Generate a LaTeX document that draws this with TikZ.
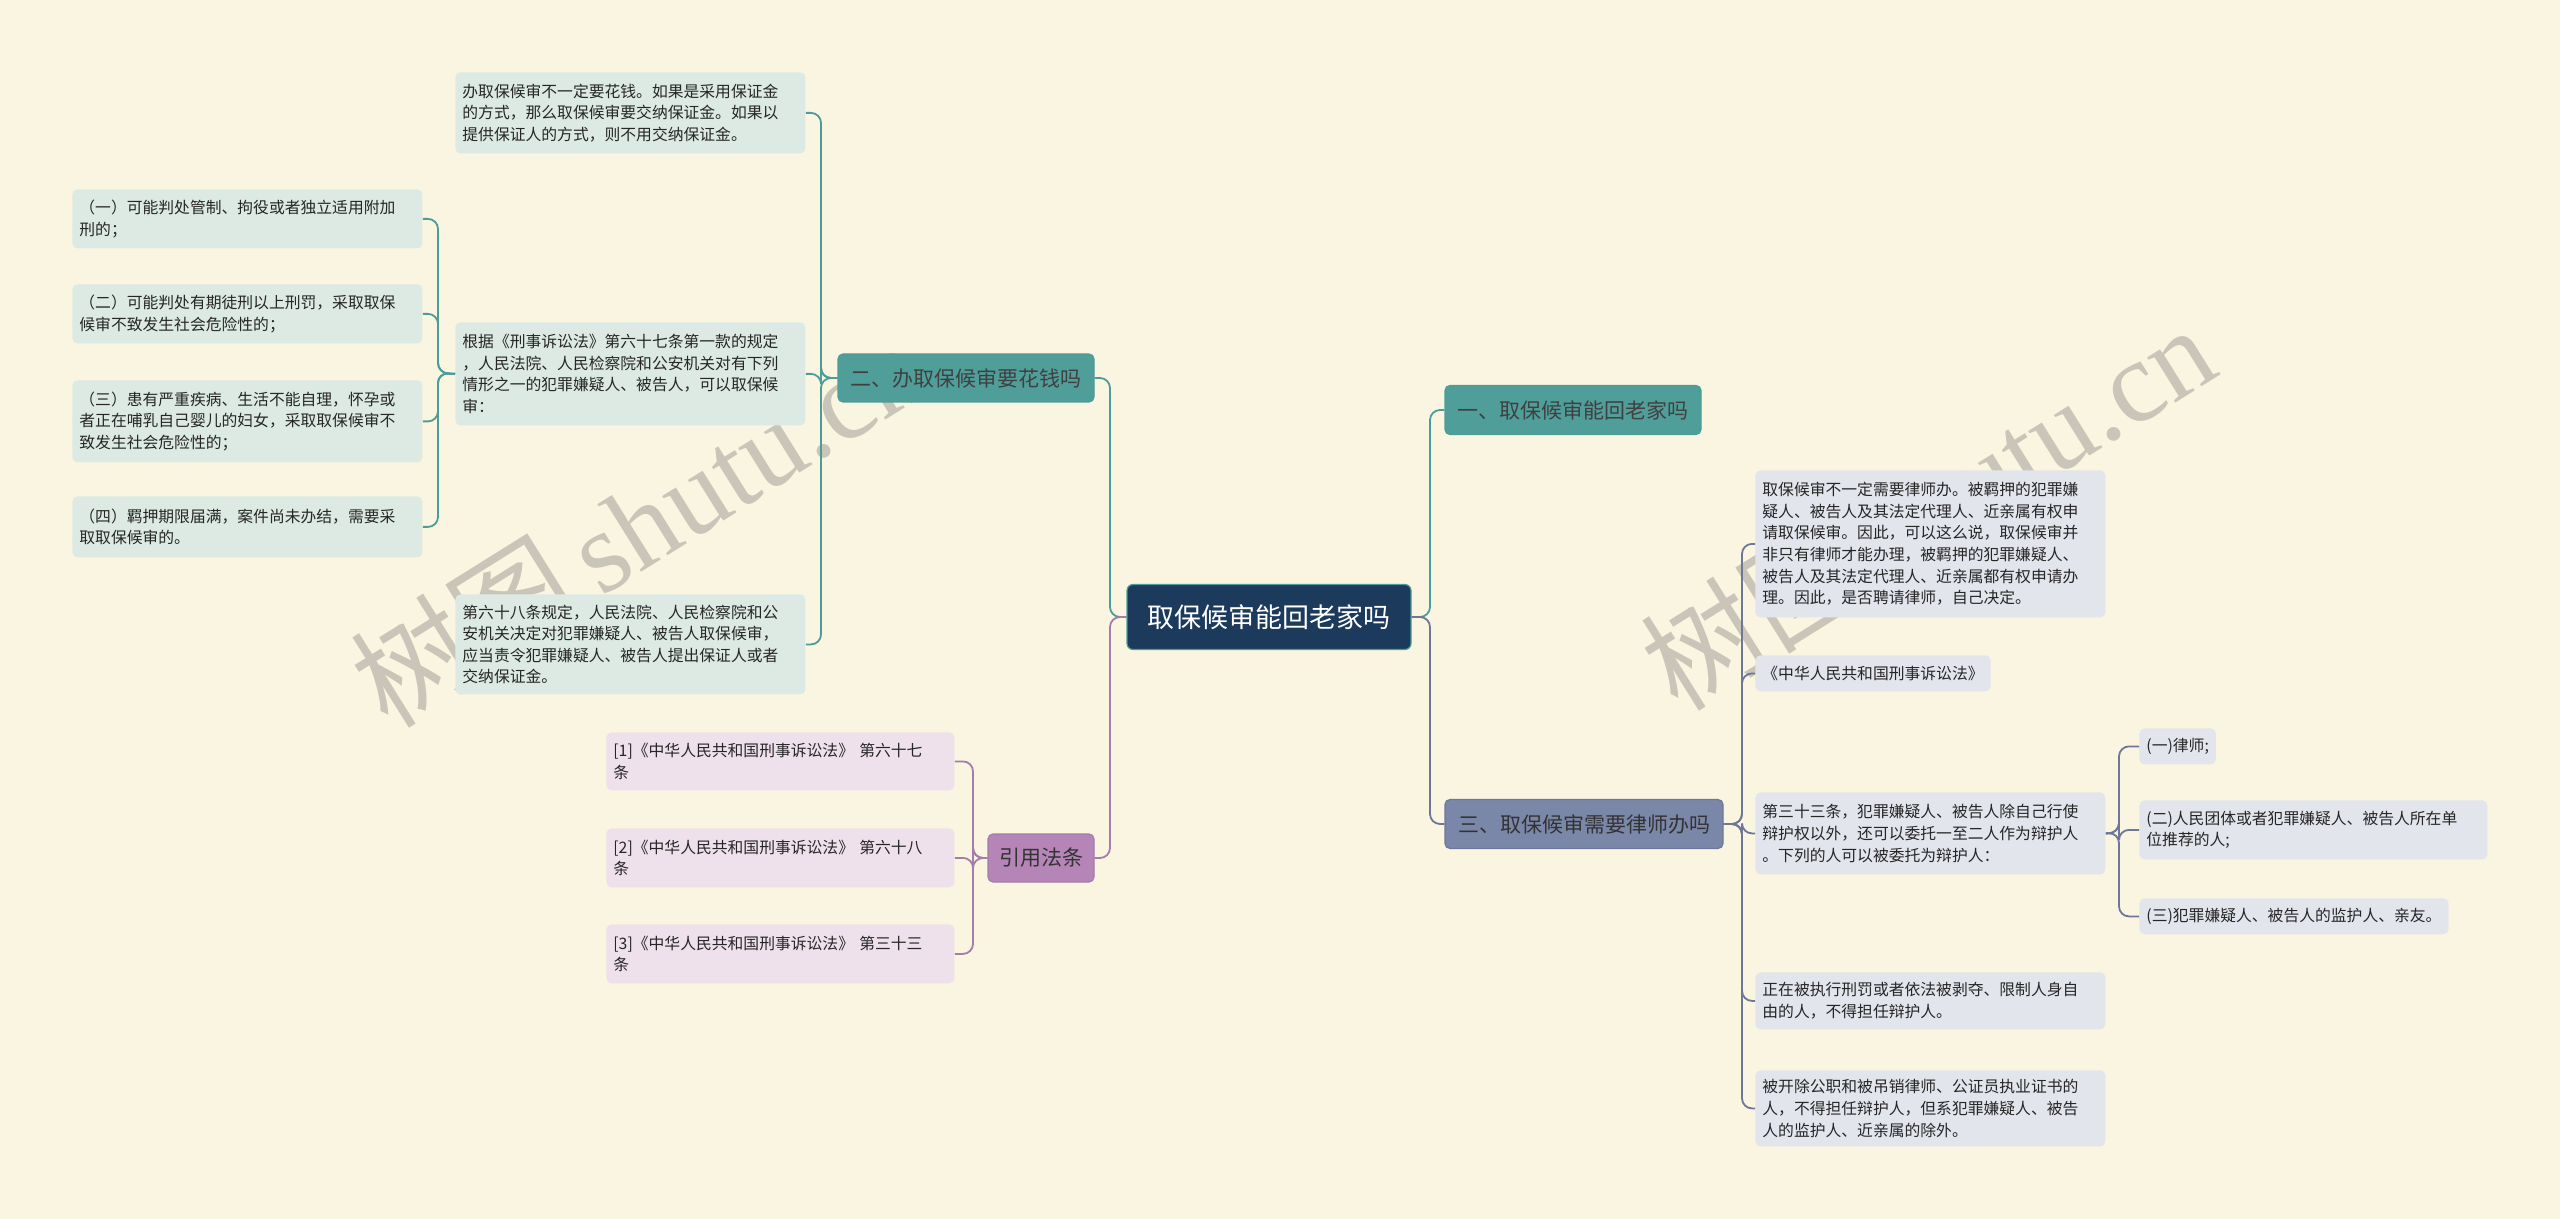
\documentclass[tikz,border=0pt]{standalone}
\usepackage{fontspec}
\setmainfont{Noto Sans CJK SC}
\newfontfamily\wmserif{Liberation Serif}
\begin{document}
\begin{tikzpicture}[x=0.5pt,y=-0.5pt,
  box/.style={rounded corners=2.5pt,inner xsep=3.5pt,inner ysep=2pt,font=\fontsize{7.9}{10.8}\selectfont,align=left,anchor=north west},
  tl/.style={box,fill=tealleaf,text=black!85},
  sl/.style={box,fill=slateleaf,text=black!85},
  pl/.style={box,fill=purpleleaf,text=black!85},
  br/.style={rounded corners=2.5pt,draw,line width=0.6pt,font=\fontsize{10.5}{12}\selectfont,anchor=center,inner sep=0pt},
  tc/.style={draw=tealline,line width=0.9pt,rounded corners=5pt},
  sc/.style={draw=slateline,line width=0.9pt,rounded corners=5pt},
  pc/.style={draw=purpleline,line width=0.9pt,rounded corners=5pt}]
\definecolor{bg}{HTML}{FAF5E0}
\definecolor{tealleaf}{HTML}{DCEAE3}
\definecolor{slateleaf}{HTML}{E3E5EC}
\definecolor{purpleleaf}{HTML}{EEE1EC}
\definecolor{tealline}{HTML}{4C9C98}
\definecolor{slateline}{HTML}{6E7896}
\definecolor{purpleline}{HTML}{A47DAA}
\definecolor{tealfill}{HTML}{4F9E9A}
\definecolor{slatefill}{HTML}{7B87A8}
\definecolor{purplefill}{HTML}{B485B6}
\definecolor{navy}{HTML}{1B3A5C}
\fill[bg] (0,0) rectangle (2560,1219);
\useasboundingbox (0,0) rectangle (2560,1219);
% watermarks
\node[rotate=32,text=gray,opacity=0.4,font=\fontsize{58}{60}\selectfont] (wm1) at (637,523) {树图\,{\wmserif shutu.cn}};
\node[rotate=32,text=gray,opacity=0.4,font=\fontsize{58}{60}\selectfont] (wm2) at (1927,506) {树图\,{\wmserif shutu.cn}};
% central
\node[rounded corners=3pt,fill=navy,draw=tealline,line width=0.6pt,text=white,font=\fontsize{13.5}{15}\selectfont,minimum width=142pt,minimum height=32.5pt,inner sep=0pt] (c) at (1269,617) {取保候审能回老家吗};
% branches
\node[br,fill=tealfill,draw=tealline,text=black!75,minimum width=128pt,minimum height=24.5pt] (b1) at (1573,410) {一、取保候审能回老家吗};
\node[br,fill=slatefill,draw=slateline,text=black!80,minimum width=139pt,minimum height=24.5pt] (b3) at (1584,824) {三、取保候审需要律师办吗};
\node[br,fill=tealfill,draw=tealline,text=black!75,minimum width=128pt,minimum height=24pt] (b2) at (966,378) {二、办取保候审要花钱吗};
\node[br,fill=purplefill,draw=purpleline,text=black!80,minimum width=53pt,minimum height=24pt] (b4) at (1041,858) {引用法条};
% branch 2 children
\node[tl,text width=168pt,minimum height=40.5pt] (a1) at (455,72) {办取保候审不一定要花钱。如果是采用保证金\\的方式，那么取保候审要交纳保证金。如果以\\提供保证人的方式，则不用交纳保证金。};
\node[tl,text width=168pt,minimum height=51.5pt] (a2) at (455,322) {根据《刑事诉讼法》第六十七条第一款的规定\\，人民法院、人民检察院和公安机关对有下列\\情形之一的犯罪嫌疑人、被告人，可以取保候\\审：};
\node[tl,text width=168pt,minimum height=50pt] (a3) at (455,594) {第六十八条规定，人民法院、人民检察院和公\\安机关决定对犯罪嫌疑人、被告人取保候审，\\应当责令犯罪嫌疑人、被告人提出保证人或者\\交纳保证金。};
\node[tl,text width=168pt,minimum height=29.5pt] (l1) at (72,189) {（一）可能判处管制、拘役或者独立适用附加\\刑的；};
\node[tl,text width=168pt,minimum height=29.5pt] (l2) at (72,284) {（二）可能判处有期徒刑以上刑罚，采取取保\\候审不致发生社会危险性的；};
\node[tl,text width=168pt,minimum height=41pt] (l3) at (72,380) {（三）患有严重疾病、生活不能自理，怀孕或\\者正在哺乳自己婴儿的妇女，采取取保候审不\\致发生社会危险性的；};
\node[tl,text width=168pt,minimum height=30.5pt] (l4) at (72,496) {（四）羁押期限届满，案件尚未办结，需要采\\取取保候审的。};
% citations
\node[pl,text width=167pt,minimum height=29pt] (p1) at (606,732) {[1]《中华人民共和国刑事诉讼法》 第六十七\\条};
\node[pl,text width=167pt,minimum height=29.5pt] (p2) at (606,828) {[2]《中华人民共和国刑事诉讼法》 第六十八\\条};
\node[pl,text width=167pt,minimum height=29.5pt] (p3) at (606,924) {[3]《中华人民共和国刑事诉讼法》 第三十三\\条};
% branch 3 children
\node[sl,text width=168pt,minimum height=73.5pt] (r1) at (1755,470) {取保候审不一定需要律师办。被羁押的犯罪嫌\\疑人、被告人及其法定代理人、近亲属有权申\\请取保候审。因此，可以这么说，取保候审并\\非只有律师才能办理，被羁押的犯罪嫌疑人、\\被告人及其法定代理人、近亲属都有权申请办\\理。因此，是否聘请律师，自己决定。};
\node[sl,minimum height=18pt] (r2) at (1755,655) {《中华人民共和国刑事诉讼法》};
\node[sl,text width=168pt,minimum height=41pt] (r3) at (1755,792) {第三十三条，犯罪嫌疑人、被告人除自己行使\\辩护权以外，还可以委托一至二人作为辩护人\\。下列的人可以被委托为辩护人：};
\node[sl,text width=168pt,minimum height=28.5pt] (r4) at (1755,972) {正在被执行刑罚或者依法被剥夺、限制人身自\\由的人，不得担任辩护人。};
\node[sl,text width=168pt,minimum height=38pt] (r5) at (1755,1070) {被开除公职和被吊销律师、公证员执业证书的\\人，不得担任辩护人，但系犯罪嫌疑人、被告\\人的监护人、近亲属的除外。};
\node[sl,minimum height=18pt] (s1) at (2139,728) {(一)律师;};
\node[sl,text width=167pt,minimum height=29.5pt] (s2) at (2139,800) {(二)人民团体或者犯罪嫌疑人、被告人所在单\\位推荐的人;};
\node[sl,minimum height=18pt] (s3) at (2139,898) {(三)犯罪嫌疑人、被告人的监护人、亲友。};
% connectors
\draw[tc] (c.east) -- (1430,617) |- (b1.west);
\draw[sc] (c.east) -- (1430,617) |- (b3.west);
\draw[tc] (c.west) -- (1110,617) |- (b2.east);
\draw[pc] (c.west) -- (1110,617) |- (b4.east);
\foreach \t in {a1,a2,a3}{\draw[tc] (b2.west) -- (821,378) |- (\t.east);}
\foreach \t in {l1,l2,l3,l4}{\draw[tc] (a2.west) -- (438,373) |- (\t.east);}
\foreach \t in {p1,p2,p3}{\draw[pc] (b4.west) -- (973,858) |- (\t.east);}
\foreach \t in {r1,r2,r3,r4,r5}{\draw[sc] (b3.east) -- (1742,824) |- (\t.west);}
\foreach \t in {s1,s2,s3}{\draw[sc] (r3.east) -- (2119,833) |- (\t.west);}
\end{tikzpicture}
\end{document}
